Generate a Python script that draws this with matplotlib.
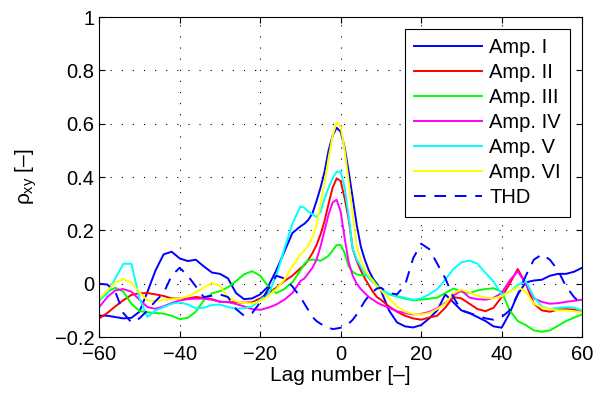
import numpy as np
import matplotlib
matplotlib.use("Agg")
import matplotlib.pyplot as plt

plt.rcParams["font.family"] = ["Liberation Sans", "DejaVu Sans"]
plt.rcParams["mathtext.fontset"] = "custom"
plt.rcParams["mathtext.rm"] = "Liberation Sans"
plt.rcParams["mathtext.it"] = "Liberation Sans"

# lag grid: step 2 far out, step 1 around the peak
lags = list(range(-60, -9, 2)) + list(range(-9, 10)) + list(range(10, 61, 2))

amp1 = [-0.12, -0.12, -0.125, -0.13, -0.128, -0.105, -0.03, 0.05, 0.11, 0.12,
        0.095, 0.085, 0.09, 0.065, 0.042, 0.037, 0.02, -0.035, -0.058, -0.055,
        -0.04, -0.01, 0.05, 0.12, 0.19, 0.215,
        0.225, 0.24, 0.265, 0.31, 0.36, 0.42, 0.50, 0.555, 0.585, 0.57,
        0.51, 0.42, 0.32, 0.22, 0.14, 0.09, 0.05, 0.02, 0.0,
        -0.025, -0.1, -0.145, -0.16, -0.164, -0.155, -0.13, -0.1, -0.04, -0.07,
        -0.1, -0.11, -0.125, -0.14, -0.16, -0.165, -0.11, -0.04, 0.005, 0.012,
        0.015, 0.03, 0.037, 0.037, 0.045, 0.06]
amp2 = [-0.13, -0.11, -0.085, -0.062, -0.042, -0.036, -0.035, -0.04, -0.046, -0.055,
        -0.056, -0.055, -0.05, -0.053, -0.058, -0.067, -0.069, -0.069, -0.071, -0.07,
        -0.055, -0.035, -0.015, 0.01, 0.03, 0.058,
        0.07, 0.09, 0.115, 0.145, 0.185, 0.235, 0.30, 0.36, 0.395, 0.385,
        0.32, 0.24, 0.13, 0.085, 0.05, 0.02, -0.005, -0.03, -0.05,
        -0.06, -0.085, -0.105, -0.12, -0.13, -0.135, -0.127, -0.12, -0.09, -0.05,
        -0.055, -0.075, -0.095, -0.103, -0.09, -0.05, 0.0, 0.055, 0.0, -0.075,
        -0.1, -0.105, -0.097, -0.095, -0.097, -0.108]
amp3 = [-0.065, -0.031, -0.015, -0.03, -0.075, -0.102, -0.107, -0.11, -0.112, -0.12,
        -0.133, -0.128, -0.105, -0.062, -0.036, -0.028, -0.013, 0.01, 0.035, 0.047,
        0.03, -0.01, -0.035, -0.02, 0.005, 0.05,
        0.075, 0.088, 0.09, 0.09, 0.086, 0.095, 0.105, 0.125, 0.145, 0.145,
        0.115, 0.065, 0.045, 0.035, 0.032, 0.032, 0.027, 0.015, -0.005,
        -0.02, -0.04, -0.048, -0.056, -0.062, -0.06, -0.056, -0.052, -0.035, -0.018,
        -0.03, -0.035, -0.025, -0.02, -0.017, -0.03, -0.1, -0.14, -0.155, -0.175,
        -0.18, -0.175, -0.158, -0.14, -0.127, -0.115]
amp4 = [-0.088, -0.05, -0.025, -0.02, -0.03, -0.06, -0.088, -0.094, -0.085, -0.072,
        -0.063, -0.058, -0.056, -0.056, -0.06, -0.068, -0.069, -0.076, -0.085, -0.095,
        -0.098, -0.09, -0.078, -0.06, -0.035, 0.01,
        0.02, 0.04, 0.06, 0.09, 0.14, 0.2, 0.26, 0.305, 0.315, 0.27,
        0.17, 0.08, 0.03, 0.0, -0.02, -0.035, -0.05, -0.06, -0.07,
        -0.078, -0.09, -0.103, -0.11, -0.115, -0.113, -0.106, -0.092, -0.072, -0.045,
        -0.025, -0.052, -0.058, -0.06, -0.053, -0.035, 0.012, 0.047, 0.0, -0.055,
        -0.068, -0.075, -0.073, -0.068, -0.064, -0.06]
amp5 = [-0.06, -0.038, 0.02, 0.075, 0.075, -0.055, -0.125, -0.1, -0.088, -0.075,
        -0.07, -0.078, -0.092, -0.09, -0.08, -0.078, -0.087, -0.094, -0.092, -0.085,
        -0.06, -0.04, 0.03, 0.13, 0.225, 0.29,
        0.285, 0.27, 0.26, 0.25, 0.27, 0.32, 0.36, 0.395, 0.42, 0.42,
        0.36, 0.25, 0.13, 0.09, 0.065, 0.04, 0.02, 0.005, -0.008,
        -0.02, -0.038, -0.046, -0.053, -0.06, -0.055, -0.04, -0.02, 0.015, 0.055,
        0.08, 0.087, 0.075, 0.04, 0.008, -0.04, -0.03, -0.005, 0.01, -0.05,
        -0.085, -0.095, -0.09, -0.088, -0.09, -0.1]
amp6 = [-0.056, -0.025, 0.005, 0.017, 0.005, -0.033, -0.062, -0.066, -0.06, -0.058,
        -0.056, -0.047, -0.033, -0.015, 0.003, -0.008, -0.052, -0.066, -0.072, -0.074,
        -0.065, -0.048, -0.02, 0.015, 0.065, 0.11,
        0.125, 0.145, 0.175, 0.22, 0.3, 0.38, 0.47, 0.555, 0.605, 0.59,
        0.5, 0.38, 0.26, 0.14, 0.09, 0.055, 0.03, 0.01, -0.01,
        -0.025, -0.055, -0.085, -0.105, -0.113, -0.115, -0.11, -0.095, -0.075, -0.035,
        -0.022, -0.033, -0.045, -0.052, -0.055, -0.047, -0.03, -0.012, -0.03, -0.075,
        -0.088, -0.095, -0.1, -0.1, -0.103, -0.108]
thd = [0.0, -0.003, -0.03, -0.11, -0.145, -0.13, -0.1, -0.065, -0.035, 0.03,
       0.06, 0.03, -0.01, -0.05, -0.045, -0.04, -0.05, -0.095, -0.12, -0.11,
       -0.07, -0.02, 0.03, 0.02, -0.01, -0.05,
       -0.075, -0.1, -0.125, -0.14, -0.15, -0.16, -0.165, -0.17, -0.168, -0.165,
       -0.158, -0.15, -0.135, -0.115, -0.09, -0.065, -0.045, -0.03, -0.018,
       -0.015, -0.035, -0.04, -0.005, 0.095, 0.15, 0.13, 0.075, 0.02, -0.05,
       -0.1, -0.11, -0.12, -0.13, -0.135, -0.125, -0.1, -0.04, 0.03, 0.09,
       0.11, 0.09, 0.05, -0.01, -0.05, -0.08]

series = [("Amp. I", amp1, "#0000ff", "-"), ("Amp. II", amp2, "#ff0000", "-"),
          ("Amp. III", amp3, "#00ff00", "-"), ("Amp. IV", amp4, "#ff00ff", "-"),
          ("Amp. V", amp5, "#00ffff", "-"), ("Amp. VI", amp6, "#ffff00", "-"),
          ("THD", thd, "#0000ff", "--")]

fig = plt.figure(figsize=(5.94, 3.97), dpi=100)
ax = fig.add_axes([0.167, 0.151, 0.813, 0.806])

for name, vals, col, ls in series:
    if ls == "--":
        ax.plot(lags, vals, color=col, lw=1.4, dashes=(6, 4.5), label=name)
    else:
        ax.plot(lags, vals, color=col, lw=1.4, label=name)

ax.set_xlim(-60, 60)
ax.set_ylim(-0.2, 1)
ax.set_xticks([-60, -40, -20, 0, 20, 40, 60])
ax.set_yticks([-0.2, 0, 0.2, 0.4, 0.6, 0.8, 1])
ax.set_yticklabels(["\u22120.2", "0", "0.2", "0.4", "0.6", "0.8", "1"])
ax.grid(True, color="k", linestyle=(0, (1, 9)), linewidth=0.8)
ax.tick_params(direction="in", top=True, right=True, length=4, labelsize=14.5)
ax.tick_params(axis="x", pad=5.5)
for s in ax.spines.values():
    s.set_linewidth(0.8)

ax.set_xlabel("Lag number [\u2013]", fontsize=15, labelpad=2)
ax.set_ylabel(r"$\rho_{xy}$" + " [\u2013]", fontsize=15, labelpad=11)

leg = ax.legend(loc="upper right", fontsize=14.5, frameon=True, fancybox=False,
                edgecolor="k", framealpha=1, handlelength=3.4, handletextpad=0.35,
                labelspacing=0.3, borderpad=0.45, borderaxespad=0.6)
leg.get_frame().set_linewidth(0.8)

fig.savefig("out.png", dpi=100)
